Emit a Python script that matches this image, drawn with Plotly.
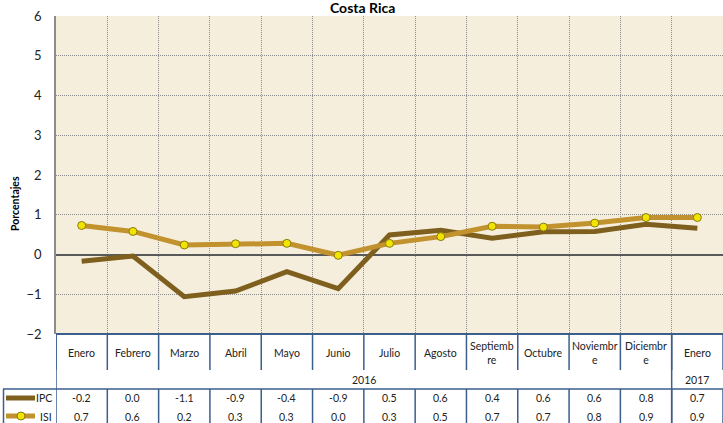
import plotly.graph_objects as go

months = ["Enero", "Febrero", "Marzo", "Abril", "Mayo", "Junio", "Julio", "Agosto",
          "Septiemb<br>re", "Octubre", "Noviembr<br>e", "Diciembr<br>e", "Enero"]
years = ["2016", "2017"]
ipc = [-0.17, -0.04, -1.06, -0.92, -0.43, -0.86, 0.49, 0.61, 0.41, 0.57, 0.58, 0.76, 0.66]
isi = [0.73, 0.58, 0.24, 0.27, 0.28, -0.02, 0.28, 0.45, 0.71, 0.69, 0.79, 0.93, 0.93]
ipc_table = ["-0.2", "0.0", "-1.1", "-0.9", "-0.4", "-0.9", "0.5", "0.6", "0.4", "0.6", "0.6", "0.8", "0.7"]
isi_table = ["0.7", "0.6", "0.2", "0.3", "0.3", "0.0", "0.3", "0.5", "0.7", "0.7", "0.8", "0.9", "0.9"]

W, H = 723, 423
L, R, T, B = 56, 0, 16, 89
PW, PH = W - L - R, H - T - B
FONT = "Lato"
IPC_C = "#7E5F1E"
ISI_C = "#C1922E"
TBL = "#3B5E8C"

def py(p):
    return (H - B - p) / PH

def px(p):
    return (p - L) / PW

n = len(months)
xs = list(range(n))

fig = go.Figure()
fig.add_trace(go.Scatter(x=xs, y=ipc, mode="lines", name="IPC",
                         line=dict(color=IPC_C, width=5), showlegend=False))
fig.add_trace(go.Scatter(x=xs, y=isi, mode="lines+markers", name="ISI",
                         line=dict(color=ISI_C, width=5),
                         marker=dict(size=8, color="#F0E400", line=dict(color="#8A7A10", width=1)),
                         showlegend=False))

shapes = []
ann = []
for k in range(n + 1):
    shapes.append(dict(type="line", xref="x", yref="paper", x0=k - 0.5, x1=k - 0.5,
                       y0=py(334), y1=py(370), line=dict(color=TBL, width=1.5)))
    shapes.append(dict(type="line", xref="x", yref="paper", x0=k - 0.5, x1=k - 0.5,
                       y0=py(389), y1=py(424), line=dict(color=TBL, width=1.5)))
shapes.append(dict(type="line", xref="x", yref="paper", x0=-0.5, x1=-0.5,
                   y0=py(334), y1=py(389), line=dict(color=TBL, width=1.5)))
shapes.append(dict(type="line", xref="x", yref="paper", x0=n - 1.5, x1=n - 1.5,
                   y0=py(334), y1=py(424), line=dict(color=TBL, width=1.5)))
shapes.append(dict(type="line", xref="paper", yref="paper", x0=px(3), x1=1,
                   y0=py(389), y1=py(389), line=dict(color=TBL, width=1.5)))
shapes.append(dict(type="line", xref="paper", yref="paper", x0=px(3.5), x1=px(3.5),
                   y0=py(389), y1=py(424), line=dict(color=TBL, width=1.5)))
shapes.append(dict(type="line", xref="paper", yref="paper", x0=0, x1=1,
                   y0=0, y1=0, line=dict(color=TBL, width=2)))
shapes.append(dict(type="line", xref="paper", yref="paper", x0=px(6), x1=px(35),
                   y0=py(398), y1=py(398), line=dict(color=IPC_C, width=5)))
shapes.append(dict(type="line", xref="paper", yref="paper", x0=px(6), x1=px(35),
                   y0=py(416), y1=py(416), line=dict(color=ISI_C, width=5)))
shapes.append(dict(type="circle", xref="paper", yref="paper", x0=px(17), x1=px(25),
                   y0=py(420), y1=py(412), fillcolor="#F0E400", line=dict(color="#8A7A10", width=1)))

TF = dict(family=FONT, size=10.5, color="#222")
for i, m in enumerate(months):
    ann.append(dict(x=i, xref="x", y=py(352.5), yref="paper", text=m, showarrow=False,
                    font=TF, yanchor="middle"))
    ann.append(dict(x=i, xref="x", y=py(398.5), yref="paper", text=ipc_table[i], showarrow=False,
                    font=TF, yanchor="middle"))
    ann.append(dict(x=i, xref="x", y=py(416.5), yref="paper", text=isi_table[i], showarrow=False,
                    font=TF, yanchor="middle"))
ann.append(dict(x=(n - 2) / 2, xref="x", y=py(380), yref="paper", text=years[0], showarrow=False,
                font=TF, yanchor="middle"))
ann.append(dict(x=n - 1, xref="x", y=py(380), yref="paper", text=years[1], showarrow=False,
                font=TF, yanchor="middle"))
ann.append(dict(x=px(54), xref="paper", y=py(398.5), yref="paper", text="IPC", showarrow=False,
                font=TF, xanchor="right", yanchor="middle"))
ann.append(dict(x=px(54), xref="paper", y=py(416.5), yref="paper", text="ISI", showarrow=False,
                font=TF, xanchor="right", yanchor="middle"))
ann.append(dict(x=px(362), xref="paper", y=py(7.5), yref="paper", text="<b>Costa Rica</b>", showarrow=False,
                font=dict(family=FONT, size=14, color="#000"), yanchor="middle"))
ann.append(dict(x=px(15), xref="paper", y=py(204), yref="paper", text="<b>Porcentajes</b>", showarrow=False,
                textangle=-90, font=dict(family=FONT, size=10.5, color="#000"),
                xanchor="center", yanchor="middle"))

fig.update_layout(
    width=W, height=H, margin=dict(l=L, r=R, t=T, b=B),
    paper_bgcolor="white", plot_bgcolor="#F6EEDC",
    shapes=shapes, annotations=ann,
    xaxis=dict(range=[-0.5, n - 0.5], tickmode="linear", tick0=-0.5, dtick=1,
               showticklabels=False, showgrid=True, gridcolor="#8C8C8C", griddash="1px,1px",
               gridwidth=1, zeroline=False, showline=False, fixedrange=True),
    yaxis=dict(range=[-2, 6], tickmode="linear", tick0=-2, dtick=1, showgrid=True,
               gridcolor="#8C8C8C", griddash="1px,1px", gridwidth=1,
               zeroline=True, zerolinecolor="#595959", zerolinewidth=1.5,
               showline=True, linecolor="#8C8C8C", linewidth=1.5,
               tickfont=dict(family=FONT, size=13, color="#222"), ticks="",
               ticklabelstandoff=10, fixedrange=True),
    font=dict(family=FONT),
    showlegend=False,
)

fig.write_html("out.html", config={"displayModeBar": False},
               post_script="document.body.style.margin='0';document.body.style.overflow='hidden';")
